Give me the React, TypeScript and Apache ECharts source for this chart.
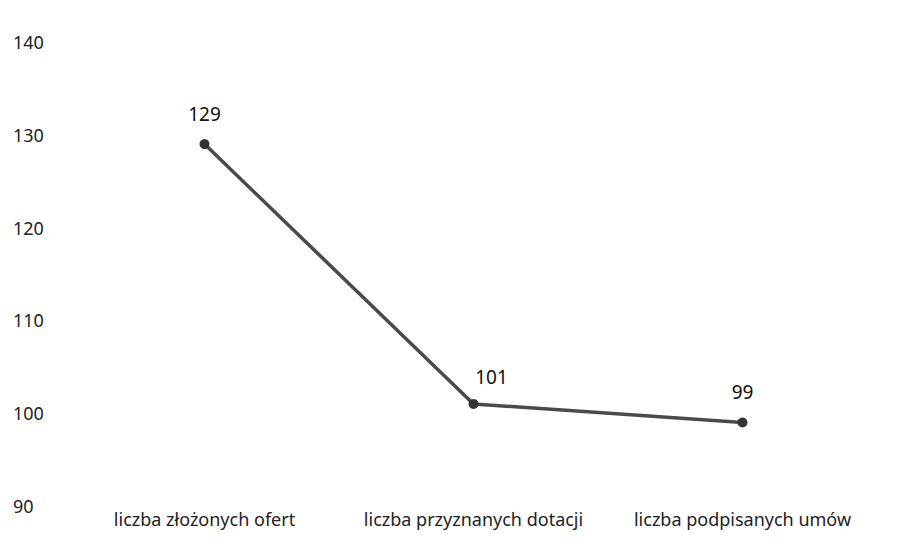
import React, { useEffect, useRef } from "react";
import * as echarts from "echarts";

const categories = ["liczba złożonych ofert", "liczba przyznanych dotacji", "liczba podpisanych umów"];
const values = [129, 101, 99];
const yMin = 90;
const yMax = 140;
const yInterval = 10;

export default function App() {
  const ref = useRef<HTMLDivElement>(null);
  useEffect(() => {
    if (!ref.current) return;
    const chart = echarts.init(ref.current, undefined, { renderer: "svg" });
    const seriesData = values.map((v, i) =>
      i === 1 ? { value: v, label: { offset: [18, 4] } } : { value: v }
    );
    chart.setOption({
      animation: false,
      backgroundColor: "#ffffff",
      grid: { left: 62, right: 17, top: 34, bottom: 37 },
      xAxis: {
        type: "category",
        data: categories,
        boundaryGap: true,
        axisLine: { show: false },
        axisTick: { show: false },
        axisLabel: {
          color: "#222",
          fontFamily: "Noto Sans",
          fontSize: 18,
          margin: 4,
          interval: 0,
          hideOverlap: false,
        },
      },
      yAxis: {
        type: "value",
        min: yMin,
        max: yMax,
        interval: yInterval,
        splitLine: { show: false },
        axisLine: { show: false },
        axisTick: { show: false },
        axisLabel: {
          color: "#222",
          fontFamily: "Noto Sans",
          fontSize: 18,
          align: "left",
          margin: 57,
        },
      },
      series: [
        {
          type: "line",
          data: seriesData,
          symbol: "circle",
          symbolSize: 10,
          itemStyle: { color: "#333" },
          lineStyle: { color: "#4a4a4a", width: 3.5 },
          label: {
            show: true,
            position: "top",
            distance: 16,
            color: "#111",
            fontFamily: "Noto Sans",
            fontSize: 19,
          },
        },
      ],
    });
    return () => chart.dispose();
  }, []);
  return <div ref={ref} style={{ width: 886, height: 535 }} />;
}
